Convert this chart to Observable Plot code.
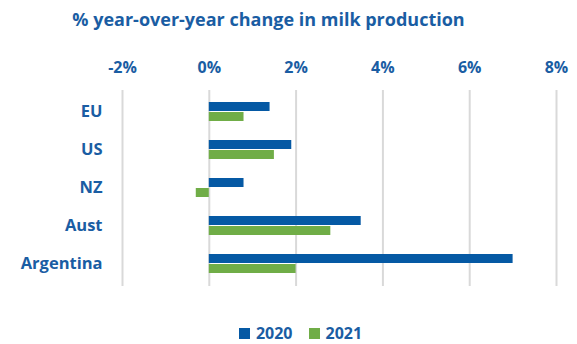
<!DOCTYPE html>
<html>
<head>
<meta charset="utf-8">
<script src="https://cdn.jsdelivr.net/npm/d3@7"></script>
<script src="https://cdn.jsdelivr.net/npm/@observablehq/plot@0.6"></script>
<style>
  html, body { margin: 0; padding: 0; background: #fff; }
  #wrap { position: relative; width: 577px; height: 344px; font-family: "Open Sans", Lato, sans-serif; color: #1A5DA3; }
  #title { position: absolute; left: 0; width: 537px; top: 9px; text-align: center; font-size: 18px; line-height: 20px; font-weight: 700; white-space: nowrap; }
  #legend { position: absolute; top: 325px; left: 0; width: 601px; display: flex; justify-content: center; font-size: 16px; line-height: 17px; font-weight: 700; }
  #legend .item { display: flex; align-items: center; margin: 0 8px; }
  #legend .sw { width: 11px; height: 11px; margin-right: 6px; }
  #chart { position: absolute; left: 0; top: 0; }
  #chart svg text { font-family: "Open Sans", Lato, sans-serif; font-weight: 700; }
  #chart svg g[aria-label="y-axis tick label"] text { font-size: 16.5px; }
</style>
</head>
<body>
<div id="wrap">
  <div id="chart"></div>
  <div id="title"></div>
  <div id="legend"></div>
</div>
<script>
const title = "% year-over-year change in milk production";
const categories = ["EU", "US", "NZ", "Aust", "Argentina"];
const series = ["2020", "2021"];
const values2020 = [1.4, 1.9, 0.8, 3.5, 7.0];
const values2021 = [0.8, 1.5, -0.3, 2.8, 2.0];
const xTicks = [-2, 0, 2, 4, 6, 8];
const colors = ["#0559A4", "#70AD47"];
const textColor = "#1A5DA3";

const rows2020 = categories.map((c, i) => ({category: c, series: "2020", value: values2020[i]}));
const rows2021 = categories.map((c, i) => ({category: c, series: "2021", value: values2021[i]}));

const plot = Plot.plot({
  width: 577,
  height: 344,
  marginTop: 90,
  marginBottom: 58,
  marginLeft: 122,
  marginRight: 21,
  style: {color: textColor, fontSize: "16px", background: "transparent"},
  x: {domain: [-2, 8], ticks: xTicks, axis: "top", tickFormat: d => d + "%", tickSize: 0, tickPadding: 18, label: null},
  y: {domain: categories, paddingInner: 0.49, paddingOuter: 0.26, tickSize: 0, tickPadding: 20, label: null},
  marks: [
    Plot.gridX(xTicks, {stroke: "#D9D9D9", strokeOpacity: 1, strokeWidth: 2}),
    Plot.barX(rows2020, {x: "value", y: "category", fill: colors[0], insetBottom: 10}),
    Plot.barX(rows2021, {x: "value", y: "category", fill: colors[1], insetTop: 10})
  ]
});
document.getElementById("chart").appendChild(plot);

document.getElementById("title").textContent = title;
const legend = document.getElementById("legend");
series.forEach((s, i) => {
  const item = document.createElement("div");
  item.className = "item";
  const sw = document.createElement("div");
  sw.className = "sw";
  sw.style.background = colors[i];
  const t = document.createElement("span");
  t.textContent = s;
  item.appendChild(sw);
  item.appendChild(t);
  legend.appendChild(item);
});
</script>
</body>
</html>
